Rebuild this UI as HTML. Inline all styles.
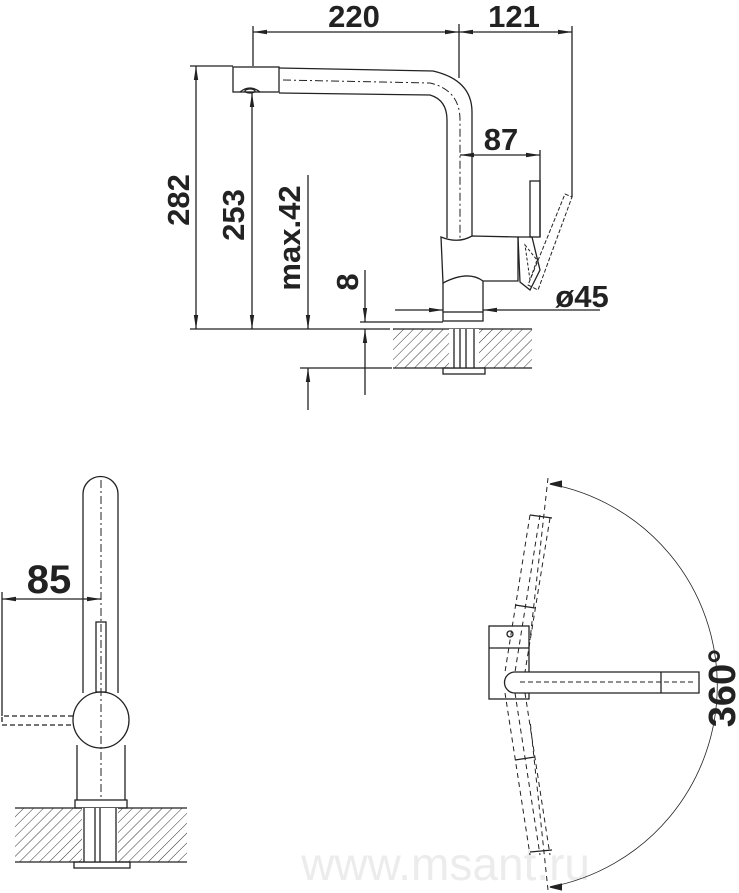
<!DOCTYPE html>
<html><head><style>body{margin:0;background:#fff}svg{display:block}text{font-family:"Liberation Sans",Arial,sans-serif;font-weight:bold;fill:#222}</style></head><body>
<svg width="739" height="893" viewBox="0 0 739 893" xmlns="http://www.w3.org/2000/svg">
<defs>
<pattern id="h" width="7" height="7" patternUnits="userSpaceOnUse" patternTransform="rotate(45)"><line x1="0" y1="0" x2="0" y2="7" stroke="#333" stroke-width="1"/></pattern>
<marker id="a" markerWidth="14" markerHeight="6" refX="14" refY="3" orient="auto" markerUnits="userSpaceOnUse"><path d="M0,0.8 L14,3 L0,5.2z" fill="#222"/></marker>
</defs>
<text x="590" y="880" font-size="46" style="font-weight:normal;fill:#ececec" text-anchor="end">www.msant.ru</text>
<g stroke="#222" stroke-width="1.3" fill="none">
<line x1="253" y1="26" x2="253" y2="66"/><line x1="459" y1="24" x2="459" y2="78"/><line x1="572" y1="26" x2="572" y2="197"/>
<line x1="356" y1="32" x2="253" y2="32" marker-end="url(#a)"/><line x1="356" y1="32" x2="459" y2="32" marker-end="url(#a)"/>
<line x1="515" y1="32" x2="459" y2="32" marker-end="url(#a)"/><line x1="515" y1="32" x2="572" y2="32" marker-end="url(#a)"/>
<rect x="233" y="67" width="46" height="25"/>
<path d="M279,68 L433,71 Q472,80 472,112 L472,236"/>
<path d="M279,93 L430,95 Q447,100 447,120 L447,238"/>
<path d="M283,80 L430,83 Q460,90 460,120 L460,238" stroke-dasharray="8,3,2,3" stroke-width="1"/>
<path d="M240,92 Q250,84 260,92" /><ellipse cx="250" cy="91" rx="5" ry="2"/>
<path d="M441,237 Q458,244 472,236 L518,237 L518,281 L483,281 Q468,270 443,283 Z"/>
<line x1="443" y1="283" x2="443" y2="312"/><line x1="483" y1="281" x2="483" y2="312"/>
<rect x="443" y="312" width="40" height="9"/>
<rect x="530" y="181" width="10" height="56"/>
<path d="M518,237 L532,237 L540,270 L530,290 L520,282 Z"/>
<path d="M565,194 L572,197 L538,290 L528,285 Z" stroke-dasharray="4,2" stroke-width="1"/>
<path d="M525,245 L537,260 L530,280 Z" stroke-dasharray="3,2" stroke-width="1"/>
<rect x="393" y="329" width="139" height="39" fill="url(#h)" stroke="none"/>
<line x1="393" y1="329" x2="532" y2="329"/><line x1="393" y1="368" x2="532" y2="368"/>
<rect x="449" y="329" width="30" height="39" fill="#fff" stroke="none"/>
<line x1="454" y1="329" x2="454" y2="368"/><line x1="474" y1="329" x2="474" y2="368"/><line x1="460" y1="329" x2="460" y2="368"/><line x1="466" y1="329" x2="466" y2="368"/>
<rect x="443" y="368" width="42" height="6"/>
<line x1="190" y1="66" x2="233" y2="66"/><line x1="190" y1="329" x2="390" y2="329"/>
<line x1="196" y1="200" x2="196" y2="66" marker-end="url(#a)"/><line x1="196" y1="200" x2="196" y2="329" marker-end="url(#a)"/>
<line x1="252" y1="200" x2="252" y2="93" marker-end="url(#a)"/><line x1="252" y1="200" x2="252" y2="329" marker-end="url(#a)"/>
<line x1="308" y1="175" x2="308" y2="329" marker-end="url(#a)"/><line x1="308" y1="410" x2="308" y2="368" marker-end="url(#a)"/>
<line x1="300" y1="368" x2="392" y2="368"/>
<line x1="365" y1="270" x2="365" y2="322" marker-end="url(#a)"/><line x1="365" y1="395" x2="365" y2="329" marker-end="url(#a)"/>
<line x1="360" y1="322" x2="443" y2="322"/>
<line x1="395" y1="310" x2="443" y2="310" marker-end="url(#a)"/><line x1="600" y1="310" x2="483" y2="310" marker-end="url(#a)"/>
<line x1="500" y1="155" x2="460" y2="155" marker-end="url(#a)"/><line x1="500" y1="155" x2="540" y2="155" marker-end="url(#a)"/>
<line x1="540" y1="150" x2="540" y2="237"/>
<path d="M83,693 L83,494 A17.5,17.5 0 0 1 118,494 L118,693"/>
<circle cx="101" cy="720" r="28"/>
<rect x="96" y="622" width="10" height="70"/>
<line x1="77" y1="745" x2="77" y2="800"/><line x1="125" y1="745" x2="125" y2="800"/>
<rect x="75" y="800" width="52" height="8"/>
<rect x="15" y="808" width="172" height="54" fill="url(#h)" stroke="none"/>
<line x1="15" y1="808" x2="187" y2="808"/><line x1="15" y1="862" x2="187" y2="862"/>
<rect x="82" y="808" width="36" height="54" fill="#fff" stroke="none"/>
<line x1="84" y1="808" x2="84" y2="862"/><line x1="116" y1="808" x2="116" y2="862"/><line x1="95" y1="808" x2="95" y2="862"/><line x1="100" y1="808" x2="100" y2="862"/>
<rect x="74" y="862" width="56" height="6"/>
<line x1="101" y1="480" x2="101" y2="800" stroke-dasharray="8,3,2,3" stroke-width="1"/>
<path d="M73,716 L2,716 L2,725 L73,725" stroke-dasharray="5,3"/>
<line x1="2" y1="592" x2="2" y2="716"/>
<line x1="50" y1="599" x2="2" y2="599" marker-end="url(#a)"/><line x1="50" y1="599" x2="101" y2="599" marker-end="url(#a)"/>
<path d="M550,484 A205,205 0 0 1 550,887" stroke-width="0.8"/>
<path d="M562,487 L550,484 L562,481" fill="#222"/><path d="M562,884 L550,887 L562,890" fill="#222"/>
<rect x="489" y="626" width="40" height="73"/><line x1="489" y1="648" x2="529" y2="648"/>
<path d="M699,672 L515,672 A10,10 0 0 0 515,693 L699,693 Z" fill="#fff"/>
<line x1="661" y1="672" x2="661" y2="693"/>
<line x1="520" y1="682" x2="695" y2="682" stroke-dasharray="5,3" stroke-width="1"/>
<g stroke-dasharray="5,4" stroke-width="1">
<path d="M530,515 L505,672 M550,518 L525,672 M540,515 L515,672"/>
<path d="M505,693 L530,855 M525,693 L550,855 M515,693 L540,855"/>
<line x1="548" y1="478" x2="530" y2="640"/><line x1="548" y1="890" x2="530" y2="720"/>
</g>
<line x1="530" y1="515" x2="552" y2="518"/><line x1="515" y1="605" x2="535" y2="608"/>
<line x1="515" y1="760" x2="535" y2="757"/><line x1="530" y1="852" x2="552" y2="850"/>
<circle cx="510" cy="634" r="3"/>
</g>
<text font-size="31" text-anchor="middle" transform="translate(354,27)">220</text>
<text font-size="31" text-anchor="middle" transform="translate(514,27)">121</text>
<text font-size="31" text-anchor="middle" transform="translate(501,150)">87</text>
<text font-size="31" text-anchor="middle" transform="translate(582,307)">ø45</text>
<text font-size="31" text-anchor="middle" transform="translate(189,200) rotate(-90)">282</text>
<text font-size="31" text-anchor="middle" transform="translate(244,215) rotate(-90)">253</text>
<text font-size="31" text-anchor="middle" transform="translate(300,238) rotate(-90)">max.42</text>
<text font-size="31" text-anchor="middle" transform="translate(358,282) rotate(-90)">8</text>
<text font-size="40" text-anchor="middle" transform="translate(49,593)">85</text>
<text font-size="38" text-anchor="middle" transform="translate(735,688) rotate(-90)">360°</text>
</svg>
</body></html>
